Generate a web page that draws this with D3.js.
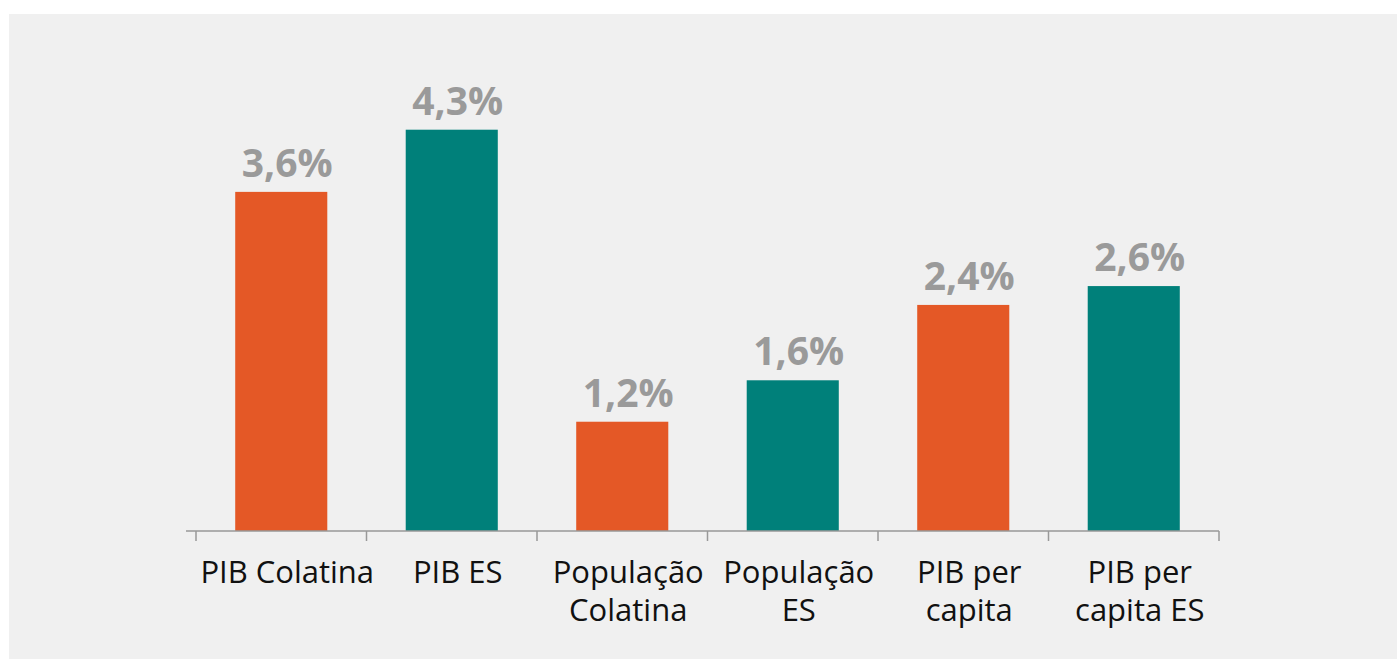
<!DOCTYPE html>
<html><head><meta charset="utf-8">
<script src="https://cdn.jsdelivr.net/npm/d3@7"></script>
<style>body{margin:0;background:#fff}svg{display:block}</style>
</head><body>
<svg id="c" width="1397" height="659"></svg>
<script>
const categories = [["PIB Colatina"],["PIB ES"],["População","Colatina"],["População","ES"],["PIB per","capita"],["PIB per","capita ES"]];
const values = [3.6, 4.26, 1.16, 1.6, 2.4, 2.6];
const colors = ["#e45826","#00807a","#e45826","#00807a","#e45826","#00807a"];

const svg = d3.select("#c");
svg.append("rect").attr("x",9).attr("y",14).attr("width",1397-9).attr("height",659-14).attr("fill","#f0f0f0");

const x = d3.scaleBand().domain(d3.range(values.length)).range([196,1219]).paddingInner(0.46).paddingOuter(0.23);
const y = d3.scaleLinear().domain([0,5]).range([531,531-94.2*5]);
const tOff = 6;

svg.selectAll("rect.bar").data(values).enter().append("rect").attr("class","bar")
  .attr("x",(d,i)=>x(i)).attr("width",x.bandwidth())
  .attr("y",d=>y(d)).attr("height",d=>y(0)-y(d))
  .attr("fill",(d,i)=>colors[i]);

const fmt = d => d3.format(".1f")(d).replace(".",",")+"%";
svg.selectAll("text.val").data(values).enter().append("text").attr("class","val")
  .attr("x",(d,i)=>x(i)+x.bandwidth()/2+tOff).attr("y",d=>y(d)-15)
  .attr("text-anchor","middle").attr("font-family","Open Sans").attr("font-weight","bold")
  .attr("font-size",39).attr("fill","#9a9a9a").text(fmt);

// axis
const bounds = d3.range(values.length+1).map(i=>196+i*(1219-196)/values.length);
svg.append("line").attr("x1",186).attr("x2",1219).attr("y1",531).attr("y2",531).attr("stroke","#999").attr("stroke-width",1.5);
svg.selectAll("line.tick").data(bounds).enter().append("line").attr("class","tick")
  .attr("x1",d=>d).attr("x2",d=>d).attr("y1",531).attr("y2",541).attr("stroke","#999").attr("stroke-width",1.5);

const lab = svg.selectAll("text.cat").data(categories).enter().append("text").attr("class","cat")
  .attr("x",(d,i)=>x(i)+x.bandwidth()/2+tOff).attr("y",583)
  .attr("text-anchor","middle").attr("font-family","Open Sans").attr("font-size",31).attr("fill","#111");
lab.selectAll("tspan").data(d=>d).enter().append("tspan")
  .attr("x",function(){return this.parentNode.getAttribute("x");})
  .attr("dy",(d,j)=>j===0?0:38).text(d=>d);
</script>
</body></html>
